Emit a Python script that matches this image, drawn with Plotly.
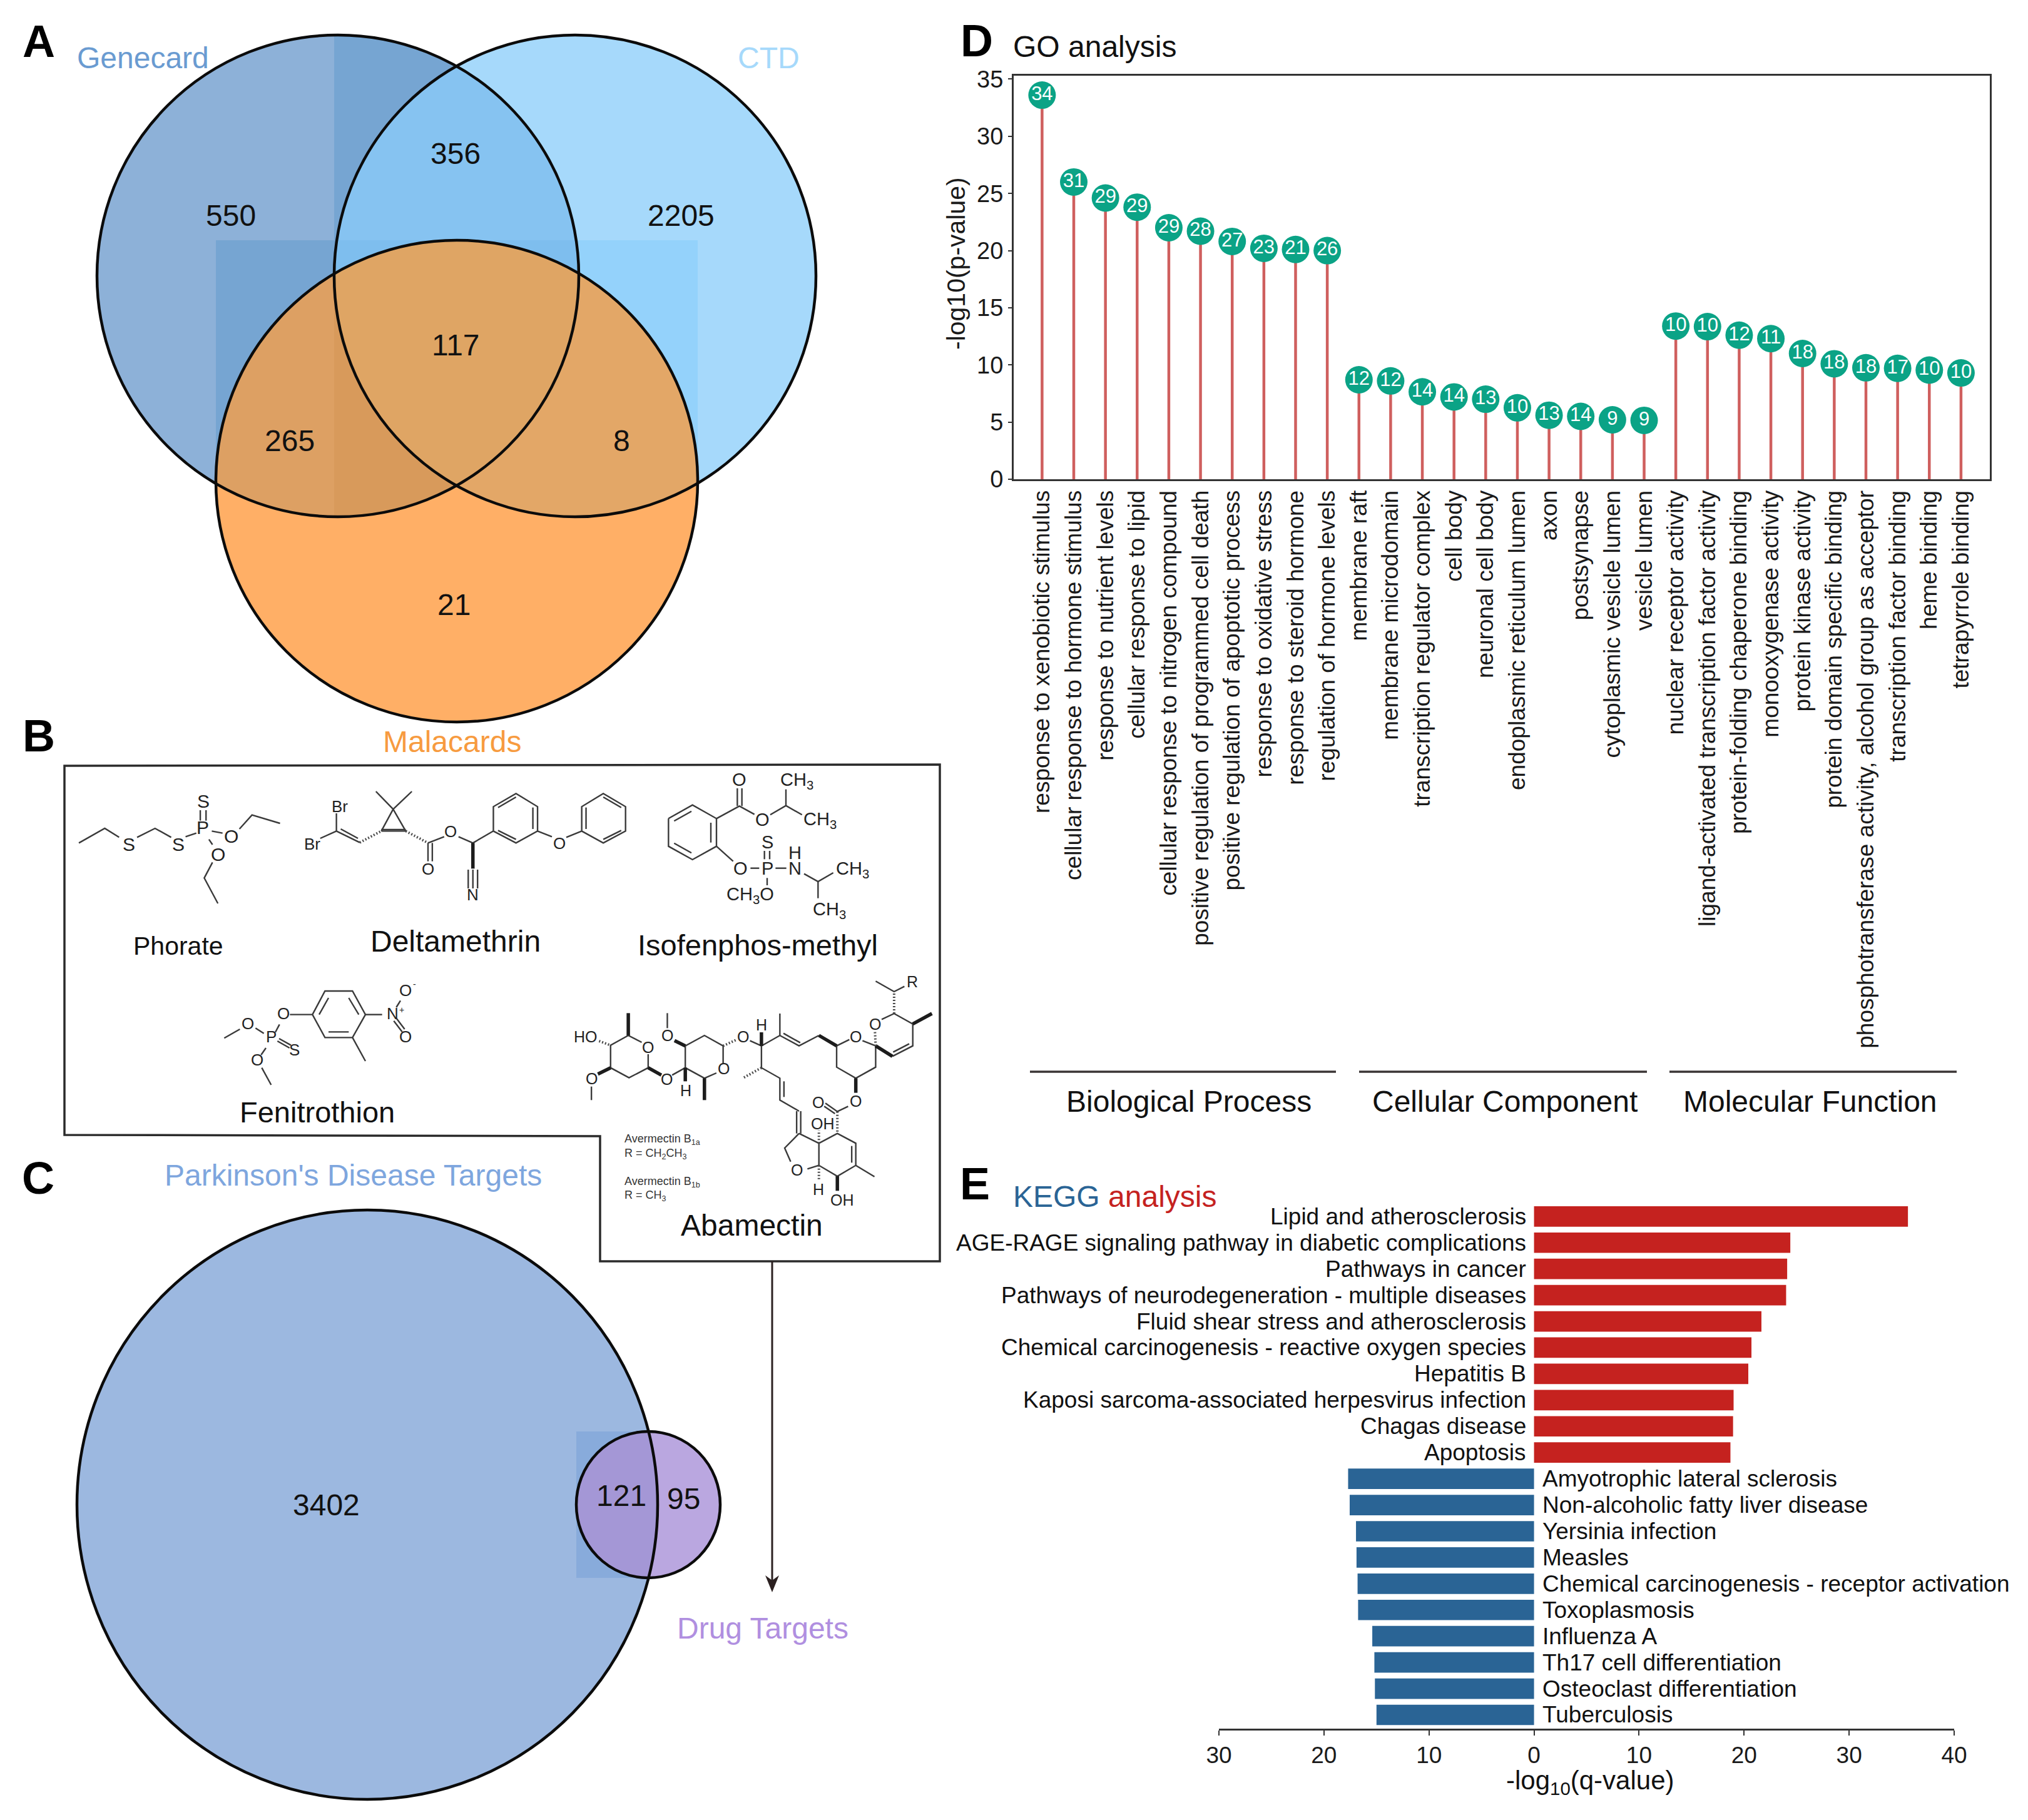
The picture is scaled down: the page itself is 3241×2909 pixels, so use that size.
import math
import plotly.graph_objects as go

W, H = 3241, 2909
PAGE = 8  # the page's own margin around the plot
FONT = "Liberation Sans"

# ---------- Panel A / C counts and names ----------
venn_a_names = ["Genecard", "CTD", "Malacards"]
venn_a_counts = ["550", "356", "2205", "117", "265", "8", "21"]
venn_c_names = ["Parkinson's Disease Targets", "Drug Targets"]
venn_c_counts = ["3402", "121", "95"]

# ---------- Panel D ----------
go_terms = [
    "response to xenobiotic stimulus", "cellular response to hormone stimulus", "response to nutrient levels",
    "cellular response to lipid", "cellular response to nitrogen compound", "positive regulation of programmed cell death",
    "positive regulation of apoptotic process", "response to oxidative stress", "response to steroid hormone",
    "regulation of hormone levels", "membrane raft", "membrane microdomain", "transcription regulator complex",
    "cell body", "neuronal cell body", "endoplasmic reticulum lumen", "axon", "postsynapse", "cytoplasmic vesicle lumen",
    "vesicle lumen", "nuclear receptor activity", "ligand-activated transcription factor activity",
    "protein-folding chaperone binding", "monooxygenase activity", "protein kinase activity",
    "protein domain specific binding", "phosphotransferase activity, alcohol group as acceptor",
    "transcription factor binding", "heme binding", "tetrapyrrole binding",
]
go_values = [33.6, 26.0, 24.6, 23.8, 22.0, 21.7, 20.8, 20.2, 20.1, 20.0,
             8.7, 8.6, 7.65, 7.2, 7.0, 6.25, 5.6, 5.5, 5.2, 5.15,
             13.4, 13.35, 12.6, 12.3, 11.0, 10.1, 9.75, 9.7, 9.55, 9.3]
go_counts = [34, 31, 29, 29, 29, 28, 27, 23, 21, 26,
             12, 12, 14, 14, 13, 10, 13, 14, 9, 9,
             10, 10, 12, 11, 18, 18, 18, 17, 10, 10]
go_groups = ["Biological Process", "Cellular Component", "Molecular Function"]
y_ticks = [0, 5, 10, 15, 20, 25, 30, 35]

# ---------- Panel E ----------
kegg_red_terms = [
    "Lipid and atherosclerosis", "AGE-RAGE signaling pathway in diabetic complications", "Pathways in cancer",
    "Pathways of neurodegeneration - multiple diseases", "Fluid shear stress and atherosclerosis",
    "Chemical carcinogenesis - reactive oxygen species", "Hepatitis B",
    "Kaposi sarcoma-associated herpesvirus infection", "Chagas disease", "Apoptosis",
]
kegg_red_values = [35.6, 24.4, 24.1, 24.0, 21.65, 20.7, 20.4, 19.0, 18.95, 18.7]
kegg_blue_terms = [
    "Amyotrophic lateral sclerosis", "Non-alcoholic fatty liver disease", "Yersinia infection", "Measles",
    "Chemical carcinogenesis - receptor activation", "Toxoplasmosis", "Influenza A",
    "Th17 cell differentiation", "Osteoclast differentiation", "Tuberculosis",
]
kegg_blue_values = [17.7, 17.55, 16.95, 16.9, 16.8, 16.75, 15.4, 15.2, 15.15, 15.0]
kegg_ticks = [-30, -20, -10, 0, 10, 20, 30, 40]

fig = go.Figure()
shapes, notes = [], []
FW, FH = W - 2 * PAGE, H - 2 * PAGE


def dx(px):
    return (px - PAGE) / FW


def dy(px):
    return 1 - (px - PAGE) / FH


def T(x, y, text, size=48, color="#111111", anchor="center", bold=False, angle=0):
    notes.append(dict(x=x, y=y, xref="x3", yref="y3", text=f"<b>{text}</b>" if bold else text,
                      showarrow=False, xanchor=anchor, yanchor="middle", textangle=angle,
                      font=dict(family=FONT, size=size, color=color)))


def circle_poly(cx, cy, rx, ry=None, n=360):
    ry = rx if ry is None else ry
    return [(cx + rx * math.cos(2 * math.pi * i / n), cy + ry * math.sin(2 * math.pi * i / n)) for i in range(n)]


def halfplane(poly, a, b):
    """Keep the part of poly to one side of the directed edge a->b."""
    out = []
    side = lambda p: (b[0] - a[0]) * (p[1] - a[1]) - (b[1] - a[1]) * (p[0] - a[0])
    for i, p in enumerate(poly):
        q = poly[(i + 1) % len(poly)]
        sp, sq = side(p), side(q)
        if sp >= 0:
            out.append(p)
        if (sp >= 0) != (sq >= 0):
            t = sp / (sp - sq)
            out.append((p[0] + t * (q[0] - p[0]), p[1] + t * (q[1] - p[1])))
    return out


def clip(poly, clipper):
    for i in range(len(clipper)):
        if not poly:
            break
        poly = halfplane(poly, clipper[i], clipper[(i + 1) % len(clipper)])
    return poly


def rect(x0, y0, x1, y1):
    return [(x0, y0), (x1, y0), (x1, y1), (x0, y1)]


def fill(poly, color):
    if poly:
        path = "M" + " L".join(f"{x:.1f},{y:.1f}" for x, y in poly) + " Z"
        shapes.append(dict(type="path", path=path, xref="x3", yref="y3", fillcolor=color,
                           line=dict(width=0), layer="below"))


def ring(cx, cy, rx, ry=None, width=4.5):
    ry = rx if ry is None else ry
    shapes.append(dict(type="circle", xref="x3", yref="y3", x0=cx - rx, x1=cx + rx, y0=cy - ry, y1=cy + ry,
                       line=dict(color="#0b0b0b", width=width), layer="below"))


# ---------- Panel A ----------
R = 385
cg, ct, cm = (540, 441), (919, 441), (730, 769)
G, C, M = circle_poly(*cg, R), circle_poly(*ct, R), circle_poly(*cm, R)
fill(G, "#8DB1D8")
fill(clip(G, rect(534, 0, 1400, 1300)), "#76A5D2")
fill(clip(G, rect(345, 384, 1400, 1300)), "#76A5D2")
fill(C, "#A6D9FB")
fill(clip(C, rect(534, 384, 1115, 826)), "#94D2FB")
GC = clip(G, C)
fill(GC, "#86C3F1")
fill(clip(GC, rect(0, 384, 1400, 826)), "#7EBEEE")
fill(M, "#FFAF66")
GM = clip(G, M)
fill(clip(GM, rect(0, 0, 534, 1300)), "#DDA063")
fill(clip(GM, rect(534, 0, 1400, 1300)), "#D89A5B")
fill(clip(C, M), "#E3A767")
fill(clip(GC, M), "#DFA564")
ring(*cg, R)
ring(*ct, R)
ring(*cm, R)
for (x, y), s in zip([(369, 344), (728, 245), (1088, 344), (728, 551), (463, 704), (993, 704), (725, 966)], venn_a_counts):
    T(x, y, s, 48)
T(228, 92, venn_a_names[0], 48, "#6A9BD1")
T(1228, 92, venn_a_names[1], 48, "#A6D9FB")
T(722, 1185, venn_a_names[2], 48, "#F79B3F")

# ---------- Panel C ----------
BC, SC = (587, 2405), (1036, 2405)
BRX, BRY = 464, 471
SRX, SRY = 115, 117
B_, S_ = circle_poly(*BC, BRX, BRY), circle_poly(*SC, SRX, SRY)
fill(B_, "#9CB8E0")
fill(clip(B_, rect(921, 2288, 1151, 2522)), "#88ABDB")
fill(S_, "#BAA7E0")
fill(clip(B_, S_), "#A497D6")
ring(*BC, BRX, BRY)
ring(*SC, SRX, SRY)
T(521, 2405, venn_c_counts[0], 48)
T(993, 2390, venn_c_counts[1], 48)
T(1092, 2395, venn_c_counts[2], 48)
T(564, 1878, venn_c_names[0], 48, "#7EA6DE")
T(1219, 2602, venn_c_names[1], 48, "#B08FE0")

# ---------- Panel B frame and arrow ----------
frame_path = "M103,1224 L1502,1222 L1502,2016 L959,2016 L959,1816 L103,1814 Z"
shapes.append(dict(type="path", path=frame_path, xref="x3", yref="y3", line=dict(color="#2b2b2b", width=3.5), layer="below"))
shapes.append(dict(type="line", x0=1234, x1=1234, y0=2016, y1=2530, xref="x3", yref="y3", line=dict(color="#2b2020", width=3), layer="below"))
shapes.append(dict(type="path", path="M1223,2518 L1234,2526 L1245,2518 L1234,2545 Z", xref="x3", yref="y3",
                   fillcolor="#2b2020", line=dict(width=0), layer="below"))
T(285, 1512, "Phorate", 41)
T(728, 1504, "Deltamethrin", 48)
T(1211, 1510, "Isofenphos-methyl", 47)
T(507, 1777, "Fenitrothion", 47)
T(1201, 1958, "Abamectin", 48)


def m8(p):
    return (110 + p[0] * 0.574, 1230 + p[1] / 3)


def m9(p):
    return (1040 + p[0] / 3, 1225 + p[1] / 3)


def m10(p):
    return (340 + p[0] / 3, 1560 + p[1] / 3)


def m7(p):
    return (900 + p[0] * 0.3827, 1540 + p[1] / 3)


thin, bold, hashed = [], [], []


def add(store, mapper, lines):
    for ln in lines:
        store.append([mapper(p) for p in ln])


phorate = [
    [(28, 352), (100, 282), (140, 325)], [(190, 325), (240, 282), (285, 325)], [(325, 322), (355, 305)],
    [(366, 195), (366, 245)], [(382, 195), (382, 245)], [(398, 295), (428, 305)], [(390, 335), (400, 360)],
    [(475, 285), (510, 218), (588, 258)], [(400, 445), (377, 520), (415, 642)],
]
delta = [
    [(745, 210), (745, 295)], [(700, 330), (745, 295)], [(745, 295), (810, 350)], [(757, 285), (805, 330)],
    [(870, 295), (938, 295), (903, 190), (870, 295)], [(870, 288), (938, 288)],
    [(903, 190), (855, 105)], [(903, 190), (955, 105)],
    [(1000, 352), (1000, 440)], [(1012, 352), (1012, 440)], [(1000, 352), (1045, 322)],
    [(1085, 322), (1125, 352), (1182, 295)], [(1112, 480), (1112, 570)], [(1125, 480), (1125, 570)], [(1138, 480), (1138, 570)],
    [(1182, 295), (1182, 178), (1245, 115), (1305, 178), (1305, 295), (1245, 352), (1182, 295)],
    [(1195, 182), (1245, 132)], [(1292, 182), (1292, 285)], [(1195, 292), (1245, 335)],
    [(1305, 295), (1345, 322)], [(1385, 325), (1428, 295)],
    [(1428, 295), (1428, 178), (1488, 115), (1550, 178), (1550, 295), (1488, 352), (1428, 295)],
    [(1440, 182), (1440, 285)], [(1488, 132), (1538, 182)], [(1538, 292), (1488, 335)],
]
delta_hash = [[(810, 350), (870, 295)], [(938, 295), (1000, 352)]]
delta_bold = [[(1125, 352), (1125, 475)]]
iso = [
    [(85, 250), (200, 185), (315, 250), (315, 383), (200, 447), (85, 383), (85, 250)],
    [(112, 262), (195, 215)], [(288, 270), (288, 365)], [(112, 368), (195, 415)],
    [(315, 250), (425, 190), (497, 230)], [(415, 190), (415, 105)], [(437, 190), (437, 105)],
    [(573, 232), (648, 188), (725, 232)], [(648, 188), (648, 110)],
    [(315, 383), (395, 455)], [(478, 488), (520, 488)], [(545, 405), (545, 445)], [(570, 405), (570, 445)],
    [(598, 488), (650, 488)], [(735, 515), (802, 552), (875, 510)], [(802, 552), (802, 632)], [(558, 535), (558, 570)],
]
feni = [
    [(478, 185), (538, 72), (670, 72), (732, 185), (670, 295), (538, 295), (478, 185)],
    [(510, 185), (555, 105)], [(652, 105), (700, 185)], [(555, 268), (652, 268)],
    [(370, 185), (478, 185)], [(205, 250), (245, 275)], [(130, 255), (55, 298)], [(300, 270), (320, 232)],
    [(310, 312), (368, 345)], [(318, 300), (375, 332)], [(255, 345), (232, 378)], [(235, 440), (280, 522)],
    [(732, 185), (812, 185)], [(880, 150), (900, 118)], [(868, 215), (908, 268)], [(882, 205), (920, 255)],
    [(670, 295), (732, 408)],
]
aba = [
    [(272, 345), (198, 392), (198, 500), (275, 548), (355, 500), (355, 435)], [(272, 345), (328, 378)],
    [(118, 590), (118, 655)], [(455, 535), (510, 500)],
    [(640, 525), (590, 550), (510, 500), (510, 395), (590, 345), (668, 395), (668, 480)], [(435, 310), (435, 238)],
    [(780, 370), (828, 395), (905, 345), (985, 395), (1068, 345)], [(905, 345), (905, 240)], [(920, 335), (990, 380)],
    [(1142, 395), (1195, 365)], [(1250, 370), (1305, 395)],
    [(1142, 395), (1142, 497), (1222, 550), (1305, 497), (1305, 395)],
    [(1190, 685), (1145, 710), (1095, 670)], [(1135, 720), (1090, 685)],
    [(1375, 445), (1460, 395), (1460, 290), (1382, 240), (1330, 268)], [(1378, 425), (1445, 385)],
    [(1305, 85), (1382, 135), (1425, 110)],
    [(828, 395), (828, 500), (905, 550), (905, 655), (985, 708)], [(922, 565), (922, 640)],
    [(975, 708), (975, 815)], [(992, 708), (992, 815)],
    [(985, 815), (1068, 862), (1145, 815), (1222, 862), (1222, 968), (1145, 1020), (1068, 968), (1068, 862)],
    [(1205, 875), (1205, 955)], [(1222, 968), (1300, 1022)], [(1068, 968), (1020, 985)],
    [(950, 950), (925, 885), (985, 815)],
]
aba_bold = [
    [(272, 345), (272, 238)], [(198, 500), (145, 530)], [(355, 500), (410, 535)], [(465, 370), (510, 395)],
    [(510, 500), (510, 565)], [(590, 550), (590, 655)], [(828, 395), (828, 330)], [(1068, 345), (1142, 395)],
    [(1222, 550), (1222, 620)], [(1305, 395), (1375, 445)], [(1460, 290), (1540, 240)], [(1145, 1020), (1145, 1090)],
]
aba_hash = [
    [(150, 372), (198, 392)], [(668, 395), (725, 365)], [(1145, 710), (1145, 815)], [(1305, 395), (1302, 325)],
    [(1382, 240), (1382, 135)], [(828, 500), (750, 550)], [(1068, 968), (1068, 1040)], [(1068, 862), (1068, 800)],
]
add(thin, m8, phorate + delta)
add(hashed, m8, delta_hash)
add(bold, m8, delta_bold)
add(thin, m9, iso)
add(thin, m10, feni)
add(thin, m7, aba)
add(bold, m7, aba_bold)
add(hashed, m7, aba_hash)


def stroke(store, color, width, dash="solid"):
    xs, ys = [], []
    for ln in store:
        xs += [p[0] for p in ln] + [None]
        ys += [p[1] for p in ln] + [None]
    fig.add_trace(go.Scatter(x=xs, y=ys, xaxis="x3", yaxis="y3", mode="lines", hoverinfo="skip", showlegend=False,
                             line=dict(color=color, width=width, dash=dash)))


stroke(thin, "#3a3a3a", 2.4)
stroke(bold, "#1c1c1c", 5.5)
stroke(hashed, "#4a4a4a", 4, "2px,3px")

CH3 = "CH<sub>3</sub>"
for pts, mapper, size in [
    ([((167, 358), "S"), ((305, 358), "S"), ((372, 278), "P"), ((375, 150), "S"), ((452, 318), "O"), ((415, 405), "O")], m8, 30),
    ([((755, 178), "Br"), ((678, 358), "Br"), ((1000, 478), "O"), ((1062, 298), "O"), ((1125, 600), "N"), ((1365, 355), "O")], m8, 26),
    ([((423, 62), "O"), ((700, 68), CH3), ((535, 255), "O"), ((812, 258), CH3), ((430, 490), "O"), ((558, 490), "P"),
      ((558, 362), "S"), ((690, 490), "N"), ((690, 415), "H"), ((968, 495), CH3), ((855, 690), CH3),
      ((478, 618), "CH<sub>3</sub>O")], m9, 29),
    ([((340, 180), "O"), ((280, 290), "P"), ((168, 227), "O"), ((392, 355), "S"), ((212, 402), "O"), ((862, 180), "N"),
      ((925, 68), "O"), ((925, 292), "O")], m10, 26),
    ([((95, 350), "HO"), ((355, 402), "O"), ((118, 552), "O"), ((432, 555), "O"), ((670, 505), "O"), ((435, 345), "O"),
      ((512, 608), "H"), ((750, 350), "O"), ((828, 295), "H"), ((1222, 350), "O"), ((1222, 660), "O"), ((1065, 665), "O"),
      ((1302, 292), "O"), ((1458, 88), "R"), ((1165, 1135), "OH"), ((975, 990), "O"), ((1065, 1082), "H"), ((1085, 768), "OH")],
     m7, 25),
]:
    for p, s in pts:
        x, y = mapper(p)
        T(x, y, s, size, "#222222")
T(*m10((905, 162)), "+", 14, "#222222")
T(*m10((968, 40)), "-", 14, "#222222")
x0 = m7((252, 0))[0]
T(x0, m7((0, 845))[1], "Avermectin B<sub>1a</sub>", 18, "#333333", "left")
T(x0, m7((0, 912))[1], "R = CH<sub>2</sub>CH<sub>3</sub>", 18, "#333333", "left")
T(x0, m7((0, 1048))[1], "Avermectin B<sub>1b</sub>", 18, "#333333", "left")
T(x0, m7((0, 1115))[1], "R = " + CH3, 18, "#333333", "left")

# ---------- Panel letters ----------
for x, y, s in [(62, 66, "A"), (62, 1176, "B"), (61, 1883, "C"), (1561, 65, "D"), (1558, 1892, "E")]:
    T(x, y, s, 72, "#000000", bold=True)

# ---------- Panel D traces ----------
stem_x, stem_y = [], []
for i, v in enumerate(go_values):
    stem_x += [i, i, None]
    stem_y += [0, v, None]
fig.add_trace(go.Scatter(x=stem_x, y=stem_y, mode="lines", line=dict(color="#CF5F5E", width=4.5),
                         hoverinfo="skip", showlegend=False, xaxis="x", yaxis="y", cliponaxis=False))
fig.add_trace(go.Scatter(x=list(range(len(go_terms))), y=go_values, mode="markers+text", text=[str(c) for c in go_counts],
                         textposition="middle center", textfont=dict(family=FONT, size=31, color="white"),
                         marker=dict(size=44, color="#0BA386", line=dict(width=0)),
                         showlegend=False, xaxis="x", yaxis="y", cliponaxis=False))
T(1749, 74, "GO analysis", 48)
T(1528, 421, "-log10(p-value)", 41, "#1a1a1a", angle=-90)
for a, b, xc, s in [(1646, 2135, 1900, go_groups[0]), (2172, 2632, 2405, go_groups[1]), (2668, 3127, 2893, go_groups[2])]:
    shapes.append(dict(type="line", x0=a, x1=b, y0=1713, y1=1713, xref="x3", yref="y3", line=dict(color="#3a3535", width=3.5)))
    T(xc, 1760, s, 48)

# ---------- Panel E traces ----------
kegg_terms = kegg_red_terms + kegg_blue_terms
fig.add_trace(go.Bar(y=kegg_red_terms, x=kegg_red_values, orientation="h", marker=dict(color="#C5221F", line=dict(width=0)),
                     width=0.78, showlegend=False, xaxis="x2", yaxis="y2"))
fig.add_trace(go.Bar(y=kegg_blue_terms, x=[-v for v in kegg_blue_values], orientation="h",
                     marker=dict(color="#2A6495", line=dict(width=0)), width=0.78, showlegend=False, xaxis="x2", yaxis="y2"))
for t in kegg_red_terms:
    notes.append(dict(x=0, y=t, xref="x2", yref="y2", text=t, showarrow=False, xanchor="right", xshift=-11, yanchor="middle",
                      font=dict(family=FONT, size=37, color="#111111")))
for t in kegg_blue_terms:
    notes.append(dict(x=0, y=t, xref="x2", yref="y2", text=t, showarrow=False, xanchor="left", xshift=11, yanchor="middle",
                      font=dict(family=FONT, size=37, color="#111111")))
notes.append(dict(x=1617, y=1912, xref="x3", yref="y3", xanchor="left", yanchor="middle", showarrow=False,
                  text="<span style='color:#2A6495'>KEGG</span> <span style='color:#C5221F'>analysis</span>",
                  font=dict(family=FONT, size=48)))
T(2541, 2848, "-log<sub>10</sub>(q-value)", 42)

fig.update_layout(
    template="none",
    width=FW, height=FH, autosize=False, margin=dict(l=0, r=0, t=0, b=0, pad=0),
    paper_bgcolor="white", plot_bgcolor="rgba(0,0,0,0)", showlegend=False, barmode="overlay",
    font=dict(family=FONT, color="#111111"), shapes=shapes, annotations=notes,
    xaxis=dict(domain=[dx(1620), dx(3180)], range=[-0.896, 29.91], tickmode="array", tickvals=list(range(len(go_terms))),
               ticktext=go_terms, tickangle=-90, tickfont=dict(family=FONT, size=37, color="#1a1a1a"), ticks="",
               ticklabelstandoff=0, showgrid=False, zeroline=False, showline=True, mirror=True, linecolor="#333333", linewidth=3,
               anchor="y", automargin=False),
    yaxis=dict(domain=[dy(766), dy(121)], range=[0, 35.3], tickmode="array", tickvals=y_ticks,
               tickfont=dict(family=FONT, size=38, color="#1a1a1a"), ticks="outside", ticklen=6, tickcolor="#333333", tickwidth=2,
               showgrid=False, zeroline=False, showline=True, mirror=True, linecolor="#333333", linewidth=3, anchor="x",
               automargin=False),
    xaxis2=dict(domain=[dx(1948), dx(3123)], range=[-30, 40], tickmode="array", tickvals=kegg_ticks,
                ticktext=[str(abs(v)) for v in kegg_ticks], tickfont=dict(family=FONT, size=37, color="#1a1a1a"), ticks="outside",
                ticklen=8, tickcolor="#333333", tickwidth=2, showgrid=False, zeroline=False, showline=True, linecolor="#333333",
                linewidth=3, anchor="y2", automargin=False),
    yaxis2=dict(domain=[dy(2763), dy(1920)], type="category", categoryorder="array", categoryarray=kegg_terms,
                range=[19.525, -0.58], showticklabels=False, ticks="", showgrid=False, zeroline=False, showline=False, anchor="x2",
                automargin=False),
    xaxis3=dict(domain=[0, 1], range=[PAGE, W - PAGE], visible=False, anchor="y3", fixedrange=True, automargin=False),
    yaxis3=dict(domain=[0, 1], range=[H - PAGE, PAGE], visible=False, anchor="x3", fixedrange=True, automargin=False),
)

fig.write_html("out.html")
